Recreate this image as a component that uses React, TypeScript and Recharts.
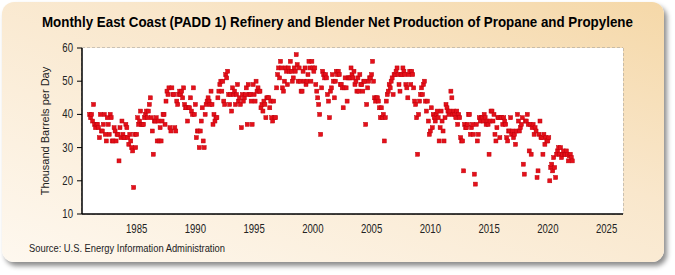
import { ScatterChart, Scatter, XAxis, YAxis, CartesianGrid } from 'recharts';

// monthly values (thousand b/d), Jan 1981 onward
const startYear = 1981;

const values1980s = [
  40, 39, 40, 38, 43, 37, 36, 37, 37, 36, 33, 40,
  35, 35, 37, 40, 34, 32, 39, 37, 34, 40, 39, 32,
  32, 36, 35, 32, 34, 34, 26, 36, 33, 38, 34, 33,
  33, 37, 36, 33, 31, 34, 32, 30, 29, 18, 34, 30,
  34, 39, 37, 38, 41, 37, 37, 37, 39, 40, 41, 39,
  41, 43, 45, 39, 35, 28, 38, 38, 39, 32, 38, 32,
  36, 32, 38, 40, 40, 37, 44, 47, 46, 48, 36, 35,
  48, 46, 46, 36, 35, 44, 43, 46, 47, 46, 47, 45,
  48, 43, 42, 42, 38, 42, 42, 45, 41, 40, 48, 40,
];

const values1990s = [
  43, 33, 35, 35, 30, 35, 38, 42, 32, 30, 40, 43,
  44, 45, 44, 43, 47, 43, 37, 40, 38, 39, 39, 45,
  47, 49, 50, 47, 50, 44, 43, 52, 51, 53, 46, 43,
  46, 41, 48, 46, 47, 43, 46, 49, 44, 45, 43, 36,
  46, 44, 45, 46, 48, 37, 49, 46, 46, 44, 37, 49,
  46, 44, 50, 47, 48, 47, 47, 42, 43, 41, 44, 43,
  39, 45, 45, 45, 42, 44, 39, 38, 44, 39, 39, 48,
  52, 54, 51, 56, 54, 48, 47, 50, 54, 53, 49, 54,
  53, 56, 53, 50, 51, 54, 53, 58, 55, 50, 54, 50,
  47, 47, 53, 50, 54, 49, 50, 52, 56, 54, 50, 56,
];

const values2000s = [
  54, 53, 54, 49, 47, 45, 43, 40, 34, 48, 53, 52,
  51, 52, 51, 46, 44, 39, 47, 48, 52, 50, 45, 50,
  53, 52, 53, 52, 49, 49, 48, 42, 48, 51, 48, 44,
  51, 51, 51, 54, 52, 51, 53, 49, 50, 47, 51, 47,
  52, 49, 49, 47, 50, 50, 37, 43, 48, 50, 51, 51,
  52, 56, 50, 45, 44, 45, 45, 44, 42, 39, 42, 39,
  40, 32, 39, 44, 46, 47, 49, 48, 50, 51, 46, 52,
  52, 53, 54, 52, 49, 47, 52, 52, 54, 53, 52, 49,
  48, 45, 52, 53, 49, 53, 52, 48, 44, 43, 39, 28,
  40, 44, 46, 48, 46, 49, 50, 44, 41, 44, 38, 34,
];

const values2010s = [
  35, 42, 36, 40, 39, 38, 40, 41, 39, 32, 36, 41,
  38, 35, 32, 39, 43, 42, 41, 40, 41, 47, 45, 40,
  41, 40, 39, 41, 37, 40, 39, 33, 32, 32, 23, 37,
  36, 36, 37, 40, 40, 34, 36, 37, 34, 22, 19, 37,
  32, 34, 39, 38, 39, 39, 38, 40, 39, 37, 38, 37,
  28, 38, 41, 41, 38, 40, 34, 32, 36, 39, 39, 33,
  39, 39, 37, 39, 38, 37, 33, 32, 35, 35, 39, 34,
  35, 33, 34, 31, 35, 40, 38, 35, 36, 37, 39, 25,
  22, 38, 38, 40, 37, 29, 37, 28, 36, 37, 34, 36,
  35, 21, 23, 34, 38, 33, 33, 28, 34, 31, 33, 32,
];

const values2020s = [
  32, 33, 20, 24, 25, 23, 27, 24, 21, 28, 29, 30,
  28, 30, 27, 28, 29, 28, 28, 29, 28, 26, 27.5, 28,
  27, 26,
];

const xTicks = [1985, 1990, 1995, 2000, 2005, 2010, 2015, 2020, 2025];
const yTicks = [10, 20, 30, 40, 50, 60];

const allValues = [...values1980s, ...values1990s, ...values2000s, ...values2010s, ...values2020s];
const points = allValues.map((v, i) => ({ date: startYear + i / 12, value: v }));

const font = '"Liberation Sans", Arial, sans-serif';
const squeeze = 0.8; // the original uses a narrow face

const SquareDot = (props: any) => {
  const { cx, cy } = props;
  if (cx == null || cy == null) return null;
  return <rect x={cx - 2} y={cy - 2} width={4} height={4} fill="#E5101A" stroke="#C0000A" strokeWidth={0.5} />;
};

const XTick = (props: any) => {
  const { x, y, payload } = props;
  return (
    <text
      transform={`translate(${x},${y + 11}) scale(${squeeze},1)`}
      textAnchor="middle"
      fontSize={12}
      fill="#222"
      fontFamily={font}
    >
      {payload.value}
    </text>
  );
};

const YTick = (props: any) => {
  const { x, y, payload } = props;
  return (
    <text
      transform={`translate(${x - 2},${y + 4}) scale(${squeeze},1)`}
      textAnchor="end"
      fontSize={12}
      fill="#222"
      fontFamily={font}
    >
      {payload.value}
    </text>
  );
};

const App = () => {
  return (
    <div style={{ position: 'absolute', left: 0, top: 0, width: 675, height: 275, fontFamily: font }}>
      <div
        style={{
          position: 'absolute',
          left: 2,
          top: 2,
          width: 662,
          height: 260,
          borderRadius: 12,
          background: 'linear-gradient(200deg, #F5D8A8 0%, #F9E7CC 40%, #FEF8EF 100%)',
          boxShadow: '3px 4px 5px rgba(0,0,0,0.45)',
        }}
      />
      <div
        style={{
          position: 'absolute',
          left: 0,
          top: 13,
          width: 675,
          textAlign: 'center',
          fontSize: 15,
          fontWeight: 'bold',
          color: '#000',
          whiteSpace: 'nowrap',
          transform: 'scaleX(0.89)',
          transformOrigin: '337px 0',
        }}
      >
        Monthly East Coast (PADD 1) Refinery and Blender Net Production of Propane and Propylene
      </div>
      <div style={{ position: 'absolute', left: 0, top: 0 }}>
        <ScatterChart width={675} height={275} margin={{ top: 48, right: 52, bottom: 31, left: 0 }}>
          <rect x={82} y={48} width={541} height={166} fill="#FFFFFF" />
          <CartesianGrid stroke="#9A9A9A" strokeDasharray="3 2" horizontal vertical />
          <XAxis
            type="number"
            dataKey="date"
            domain={[1980.35, 2026.4]}
            ticks={xTicks}
            allowDataOverflow
            height={30}
            tickLine={false}
            axisLine={{ stroke: '#000', strokeWidth: 1.5 }}
            tick={<XTick />}
          />
          <YAxis
            type="number"
            dataKey="value"
            domain={[10, 60]}
            ticks={yTicks}
            width={82}
            tickSize={5}
            tickLine={{ stroke: '#000' }}
            axisLine={{ stroke: '#000', strokeWidth: 1.5 }}
            tick={<YTick />}
            label={{
              value: 'Thousand Barrels per Day',
              angle: -90,
              position: 'center',
              dx: 4,
              style: { fontSize: 11, fill: '#222', fontFamily: font },
            }}
          />
          <Scatter data={points} shape={SquareDot} isAnimationActive={false} />
        </ScatterChart>
      </div>
      <div
        style={{
          position: 'absolute',
          left: 29,
          top: 242,
          fontSize: 11,
          color: '#222',
          whiteSpace: 'nowrap',
          transform: 'scaleX(0.85)',
          transformOrigin: '0 0',
        }}
      >
        Source: U.S. Energy Information Administration
      </div>
    </div>
  );
};

export default App;
